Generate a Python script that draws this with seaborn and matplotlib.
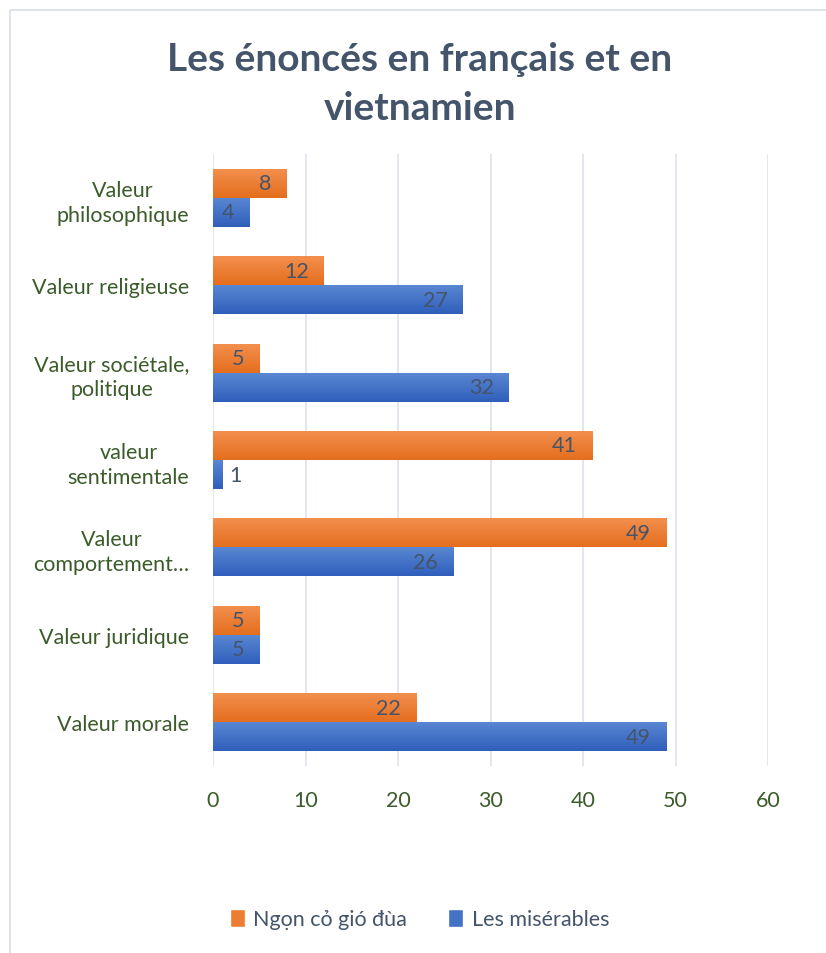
import matplotlib
matplotlib.use('Agg')

import numpy as np
import pandas as pd
import matplotlib.pyplot as plt
import seaborn as sns
from matplotlib.patches import Rectangle, Patch
from matplotlib.colors import LinearSegmentedColormap

# --------------------------------------------------
# Data (top to bottom as shown)
# --------------------------------------------------
categories = [
    "Valeur\nphilosophique",
    "Valeur religieuse",
    "Valeur sociétale,\npolitique",
    "valeur\nsentimentale",
    "Valeur\ncomportement…",
    "Valeur juridique",
    "Valeur morale",
]
series_names = ["Ngọn cỏ gió đùa", "Les misérables"]
ngon_co = [8, 12, 5, 41, 49, 5, 22]
miserables = [4, 27, 32, 1, 26, 5, 49]
x_ticks = [0, 10, 20, 30, 40, 50, 60]

df = pd.DataFrame({
    "categorie": categories * 2,
    "serie": [series_names[0]] * len(categories) + [series_names[1]] * len(categories),
    "valeur": ngon_co + miserables,
})

# --------------------------------------------------
# Style
# --------------------------------------------------
sns.set_style("white")
plt.rcParams['font.family'] = ['Lato', 'Noto Sans', 'DejaVu Sans']

orange = "#ED7D31"
blue = "#4472C4"
grad = {
    orange: ("#F3904F", "#E46E1E"),
    blue: ("#5B88D3", "#2F5FBB"),
}
label_col = "#44546A"
tick_col = "#3B5C2A"
grid_col = "#DDE2EA"

fig = plt.figure(figsize=(8.26, 9.54), dpi=100)
ax = fig.add_axes([213 / 826, 1 - 767 / 954, (768 - 213) / 826, (767 - 155) / 954])

sns.barplot(
    data=df, x="valeur", y="categorie", hue="serie",
    hue_order=series_names, order=categories,
    palette=[orange, blue], orient="h", width=0.664,
    saturation=1, ax=ax, legend=False,
)

# gradient fill on each bar
for container, col in zip(ax.containers, [orange, blue]):
    cmap = LinearSegmentedColormap.from_list("g", list(grad[col]))
    for p in container.patches:
        x0, y0 = p.get_x(), p.get_y()
        w, h = p.get_width(), p.get_height()
        g = np.linspace(0, 1, 50).reshape(-1, 1)
        im = ax.imshow(g, cmap=cmap, aspect="auto",
                       extent=[x0, x0 + w, y0 + h, y0], zorder=2)
        im.set_clip_path(p)
        p.set_linewidth(0)

# data labels (inside end)
for container in ax.containers:
    for p in container.patches:
        w = p.get_width()
        yc = p.get_y() + p.get_height() / 2
        if w < 3:
            ax.annotate(f"{w:g}", xy=(w, yc), xytext=(5, 0),
                        textcoords="offset points", ha="left", va="center",
                        fontsize=15.5, color=label_col, zorder=5)
        else:
            ax.annotate(f"{w:g}", xy=(w, yc), xytext=(-11, 0),
                        textcoords="offset points", ha="right", va="center",
                        fontsize=15.5, color=label_col, zorder=5)

ax.set_xlim(0, 60)
ax.set_ylim(len(categories) - 0.5, -0.5)
ax.set_xticks(x_ticks)
ax.set_xlabel("")
ax.set_ylabel("")
ax.grid(axis="x", color=grid_col, linewidth=1.2)
ax.set_axisbelow(True)
for s in ax.spines.values():
    s.set_visible(False)
ax.tick_params(axis="both", length=0, labelsize=15.5, colors=tick_col)
ax.tick_params(axis="x", pad=17)
ax.tick_params(axis="y", pad=17)
for t in ax.get_yticklabels():
    t.set_multialignment("center")
    t.set_linespacing(1.3)

# title
fig.text(0.508, 1 - 84 / 954, "Les énoncés en français et en\nvietnamien",
         ha="center", va="center", fontsize=28, fontweight="bold",
         color=label_col, linespacing=1.5)

# legend
handles = [Patch(facecolor=orange), Patch(facecolor=blue)]
leg = fig.legend(handles, series_names, loc="center",
                 bbox_to_anchor=(0.508, 1 - 920 / 954), ncol=2, frameon=False,
                 fontsize=15.5, handlelength=0.7, handleheight=0.9,
                 handletextpad=0.4, columnspacing=1.9)
for t in leg.get_texts():
    t.set_color(label_col)

# chart border
fig.patches.append(Rectangle((10 / 826, -0.05), 1.2, 1 - 11 / 954 + 0.05,
                             transform=fig.transFigure, fill=False,
                             edgecolor="#D9DEE6", linewidth=1.2))

fig.savefig("out.png", dpi=100)
plt.close(fig)
